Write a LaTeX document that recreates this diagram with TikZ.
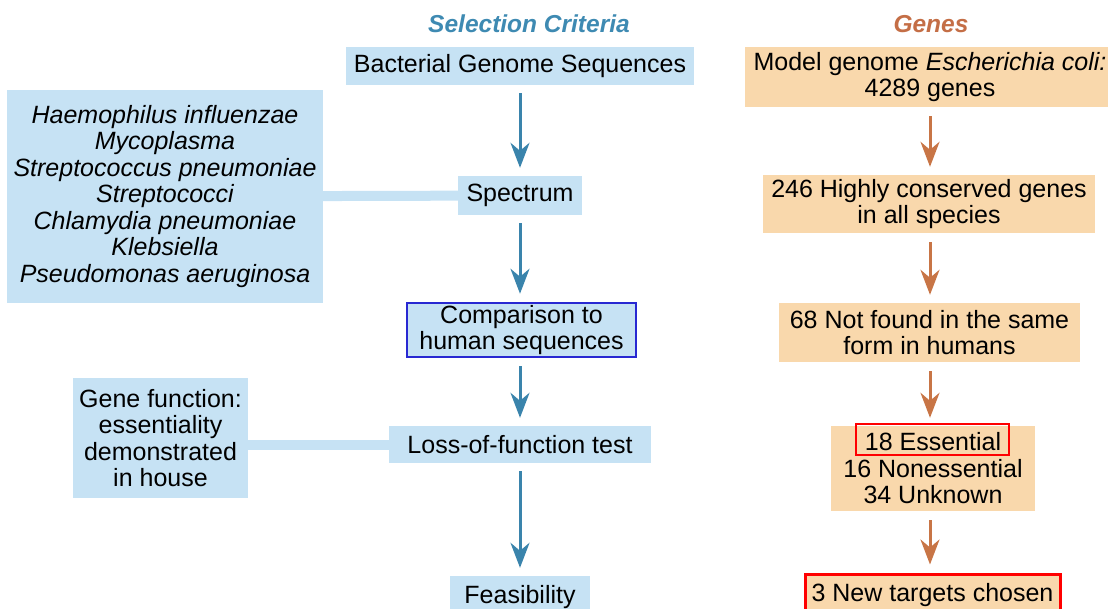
\documentclass[tikz,border=0pt]{standalone}
\usepackage{fontspec}
\setmainfont{Liberation Sans}
\usetikzlibrary{arrows.meta}

\definecolor{critfill}{RGB}{198,226,244}
\definecolor{critline}{RGB}{58,132,172}
\definecolor{crittitle}{RGB}{62,138,178}
\definecolor{genefill}{RGB}{249,216,172}
\definecolor{geneline}{RGB}{200,117,70}
\definecolor{genetitle}{RGB}{196,110,70}
\definecolor{markblue}{RGB}{40,40,210}

\begin{document}
\begin{tikzpicture}[
            x=1pt, y=-1pt,
            font=\fontsize{25}{26.5}\selectfont,
            crit node/.style={fill=critfill, inner sep=0pt, align=center},
            gene node/.style={fill=genefill, inner sep=0pt, align=center},
            title node/.style={font=\fontsize{24.5}{26}\selectfont\bfseries\itshape},
            crit arrow/.style={critline, line width=3pt, -{Stealth[length=25pt,width=19pt,inset=8pt]}, shorten >=8pt, shorten <=8pt},
            gene arrow/.style={geneline, line width=3pt, -{Stealth[length=25pt,width=19pt,inset=8pt]}, shorten >=8pt, shorten <=9pt},
            band/.style={critfill, line width=10pt},
            ]
            \clip (0,0) rectangle (1108,609);

            % selection criteria column
            \node[title node, text=crittitle] (crittitle) at (529,24) {Selection Criteria};
            \node[crit node, minimum width=348pt, minimum height=38pt] (bact) at (520,66) {Bacterial Genome Sequences};
            \node[crit node, minimum width=124pt, minimum height=39pt] (spec) at (520,195.5) {Spectrum};
            \node[crit node, minimum width=229pt, minimum height=54pt, draw=markblue, line width=2.5pt] (comp) at (521.5,330) {Comparison to\\human sequences};
            \node[crit node, minimum width=262pt, minimum height=37pt] (loss) at (520,444.5) {Loss-of-function test};
            \node[crit node, minimum width=140pt, minimum height=42pt] (feas) at (520,597) {Feasibility};

            % side boxes
            \node[crit node, minimum width=316pt, minimum height=213pt] (species) at (165,196.5)
                {\itshape Haemophilus influenzae\\\itshape Mycoplasma\\\itshape Streptococcus pneumoniae\\\itshape Streptococci\\\itshape Chlamydia pneumoniae\\\itshape Klebsiella\\\itshape Pseudomonas aeruginosa};
            \node[crit node, minimum width=175pt, minimum height=120pt] (genefn) at (160.5,438)
                {Gene function:\\essentiality\\demonstrated\\in house};

            \draw[band] (species) -- (spec);
            \draw[band] (loss.west -| genefn.east) -- (loss.west);

            \coordinate (critx) at (520,0);
            \draw[crit arrow] (critx |- bact.south) -- (critx |- spec.north);
            \draw[crit arrow] (critx |- spec.south) -- (critx |- comp.north);
            \draw[crit arrow] (critx |- comp.south) -- (critx |- loss.north);
            \draw[crit arrow] (critx |- loss.south) -- (critx |- feas.north);

            % genes column
            \node[title node, text=genetitle] (genetitle) at (931,24) {Genes};
            \node[gene node, minimum width=370pt, minimum height=60pt] (model) at (930,77) {Model genome \textit{Escherichia coli:}\\4289 genes};
            \node[gene node, minimum width=332pt, minimum height=58pt] (cons) at (929,204) {246 Highly conserved genes\\in all species};
            \node[gene node, minimum width=301pt, minimum height=59pt] (nothum) at (929.5,332.5) {68 Not found in the same\\form in humans};
            \node[gene node, minimum width=204pt, minimum height=85pt] (ess) at (933,468.5) {18 Essential\\16 Nonessential\\34 Unknown};
            \node[gene node, minimum width=255pt, minimum height=42pt, draw=red, line width=3pt] (targets) at (932.5,595) {3 New targets chosen};

            \draw[red, line width=2pt] (856,424) rectangle (1009,455);

            \coordinate (genex) at (930,0);
            \draw[gene arrow] (genex |- model.south) -- (genex |- cons.north);
            \draw[gene arrow] (genex |- cons.south) -- (genex |- nothum.north);
            \draw[gene arrow] (genex |- nothum.south) -- (genex |- ess.north);
            \draw[gene arrow] (genex |- ess.south) -- (genex |- targets.north);
        \end{tikzpicture}
\end{document}
